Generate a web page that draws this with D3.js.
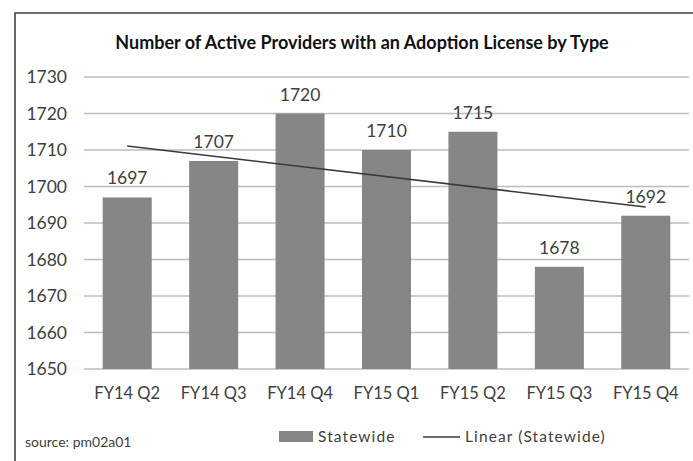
<!DOCTYPE html>
<html>
<head>
<meta charset="utf-8">
<script src="https://cdn.jsdelivr.net/npm/d3@7"></script>
<style>
  body { margin: 0; background: #fff; }
  svg text { font-family: Lato, "Open Sans", sans-serif; fill: #404040; }
</style>
</head>
<body>
<div id="chart"></div>
<script>
const categories = ['FY14 Q2', 'FY14 Q3', 'FY14 Q4', 'FY15 Q1', 'FY15 Q2', 'FY15 Q3', 'FY15 Q4'];
const statewide = [1697, 1707, 1720, 1710, 1715, 1678, 1692];
const yTicks = [1650, 1660, 1670, 1680, 1690, 1700, 1710, 1720, 1730];

const width = 693, height = 461;

const svg = d3.select('#chart')
    .append('svg')
    .attr('width', width)
    .attr('height', height);

// outer frame (runs off the right and bottom edge)
svg.append('path')
    .attr('d', 'M15,' + (height + 5) + 'V13H' + (width + 5))
    .attr('stroke', '#404040')
    .attr('stroke-width', 1.6)
    .attr('fill', 'none');

svg.append('text')
    .attr('x', 362)
    .attr('y', 49)
    .attr('text-anchor', 'middle')
    .style('font-weight', 'bold')
    .style('font-size', '18px')
    .style('fill', '#111')
    .text('Number of Active Providers with an Adoption License by Type');

const x = d3.scaleBand()
    .domain(categories)
    .range([84, 689])
    .paddingInner(0.433)
    .paddingOuter(0.2165);

const y = d3.scaleLinear()
    .domain([1650, 1730])
    .range([369, 77]);

// gridlines
svg.append('g')
    .selectAll('line')
    .data(yTicks)
    .join('line')
    .attr('x1', 84)
    .attr('x2', 689)
    .attr('y1', (d) => y(d))
    .attr('y2', (d) => y(d))
    .attr('stroke', '#bdbdbd')
    .attr('stroke-width', 1.5);

// y axis labels
const yAxis = svg.append('g')
    .attr('transform', 'translate(84,0)')
    .call(d3.axisLeft(y).tickValues(yTicks).tickSize(0).tickPadding(17).tickFormat(d3.format('d')));
yAxis.select('.domain').remove();
yAxis.selectAll('text')
    .style('font-size', '17.5px')
    .style('font-family', 'Lato, sans-serif')
    .style('fill', '#404040');

// bars
svg.append('g')
    .selectAll('rect')
    .data(statewide)
    .join('rect')
    .attr('x', (d, i) => x(categories[i]))
    .attr('y', (d) => y(d))
    .attr('width', x.bandwidth())
    .attr('height', (d) => y(1650) - y(d))
    .attr('fill', '#868686');

// data labels
svg.append('g')
    .selectAll('text')
    .data(statewide)
    .join('text')
    .attr('x', (d, i) => x(categories[i]) + x.bandwidth() / 2)
    .attr('y', (d) => y(d) - 13)
    .attr('text-anchor', 'middle')
    .style('font-size', '17.5px')
    .text((d) => d);

// x axis labels
const xAxis = svg.append('g')
    .attr('transform', 'translate(0,369)')
    .call(d3.axisBottom(x).tickSize(0).tickPadding(18));
xAxis.select('.domain').remove();
xAxis.selectAll('text')
    .style('font-size', '16.5px')
    .style('font-family', 'Lato, sans-serif')
    .style('fill', '#404040');

// linear trendline (least squares over the bars)
const n = statewide.length;
const xs = d3.range(1, n + 1);
const mx = d3.mean(xs), my = d3.mean(statewide);
const slope = d3.sum(xs, (v, i) => (v - mx) * (statewide[i] - my)) / d3.sum(xs, (v) => (v - mx) * (v - mx));
const trend = [0, n - 1].map((i) => ({cat: categories[i], v: my + slope * (xs[i] - mx)}));

const lineFunction = d3.line()
    .x((d) => x(d.cat) + x.bandwidth() / 2)
    .y((d) => y(d.v));

svg.append('path')
    .attr('d', lineFunction(trend))
    .attr('stroke', '#3a3a3a')
    .attr('stroke-width', 1.5)
    .attr('fill', 'none');

// legend
svg.append('rect')
    .attr('x', 279)
    .attr('y', 431)
    .attr('width', 34)
    .attr('height', 11)
    .attr('fill', '#868686');
svg.append('text')
    .attr('x', 318)
    .attr('y', 442)
    .style('font-size', '15.5px')
    .style('letter-spacing', '1.1px')
    .text('Statewide');
svg.append('line')
    .attr('x1', 423)
    .attr('x2', 460)
    .attr('y1', 437)
    .attr('y2', 437)
    .attr('stroke', '#3a3a3a')
    .attr('stroke-width', 1.5);
svg.append('text')
    .attr('x', 465)
    .attr('y', 442)
    .style('font-size', '15.5px')
    .style('letter-spacing', '1.1px')
    .text('Linear (Statewide)');

svg.append('text')
    .attr('x', 25)
    .attr('y', 447)
    .style('font-size', '14px')
    .text('source: pm02a01');
</script>
</body>
</html>
